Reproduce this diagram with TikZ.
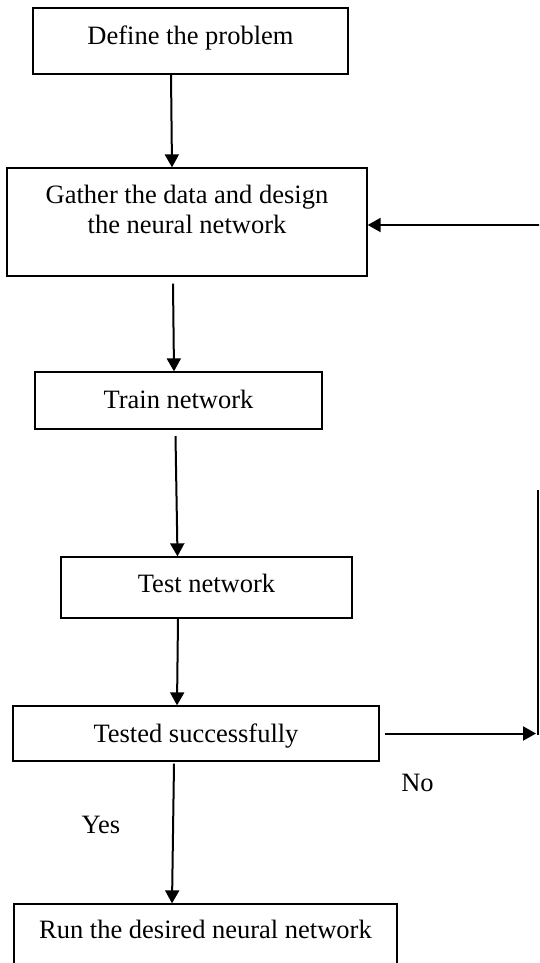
\documentclass[tikz,border=0pt]{standalone}
\usepackage{fontspec}
\setmainfont{Liberation Serif}
\usetikzlibrary{arrows.meta}
\begin{document}
\begin{tikzpicture}[x=1pt,y=-1pt,
  box/.style={draw=black, line width=1.3pt, rectangle, inner sep=0pt,
    font=\fontsize{26.5}{30}\selectfont},
  lbl/.style={inner sep=0pt, anchor=base, font=\fontsize{26.5}{30}\selectfont},
  arr/.style={line width=2pt, -{Triangle[length=13pt,width=14pt]}},
  ln/.style={line width=1.6pt}]
\useasboundingbox (0,0) rectangle (539,963);
\fill[white] (0,0) rectangle (539,963);
\clip (0,0) rectangle (539,963);

\node[box, minimum width=315pt, minimum height=66pt, text height=20pt, text depth=12pt]
  (define) at (190.5,41) {Define the problem};
\node[box, minimum width=360pt, minimum height=108pt, text width=356pt, align=flush center,
  text height=10pt, text depth=48pt]
  (gather) at (187,222) {Gather the data and design\\the neural network};
\node[box, minimum width=287pt, minimum height=57pt, text height=25pt, text depth=10pt]
  (train) at (178.5,400.5) {Train network};
\node[box, minimum width=291pt, minimum height=61pt, text height=22pt, text depth=13pt]
  (test) at (206.5,587.5) {Test network};
\node[box, minimum width=366pt, minimum height=55pt, text height=25pt, text depth=8pt]
  (tested) at (196,733.5) {Tested successfully};
\node[box, minimum width=383pt, minimum height=86pt, text width=380pt, align=flush center,
  text height=10pt, text depth=28pt]
  (run) at (205.5,947) {Run the desired neural network};

\node[lbl] (yes) at (101,833) {Yes};
\node[lbl] (no) at (417.5,791) {No};

\coordinate (vtop) at (538,490);
\coordinate (vbot) at (538,734.5);
\coordinate (topr) at (545,225);

\draw[arr] ([xshift=-19.5pt]define.south) -- ([xshift=-15pt]gather.north);
\draw[arr] ([xshift=-14pt,yshift=-7pt]gather.south) -- ([xshift=-4.5pt]train.north);
\draw[arr] ([xshift=-3pt,yshift=-6.5pt]train.south) -- ([xshift=-29pt]test.north);
\draw[arr] ([xshift=-28.5pt]test.south) -- ([xshift=-19pt]tested.north);
\draw[arr] ([xshift=-22pt,yshift=-2pt]tested.south) -- ([xshift=-33.5pt]run.north);
\draw[arr] ([xshift=5pt]tested.east) -- ([xshift=-2pt]tested.east -| vbot);
\draw[ln] (vtop) -- (vbot);
\draw[arr] (topr) -- (topr -| gather.east);
\end{tikzpicture}
\end{document}
